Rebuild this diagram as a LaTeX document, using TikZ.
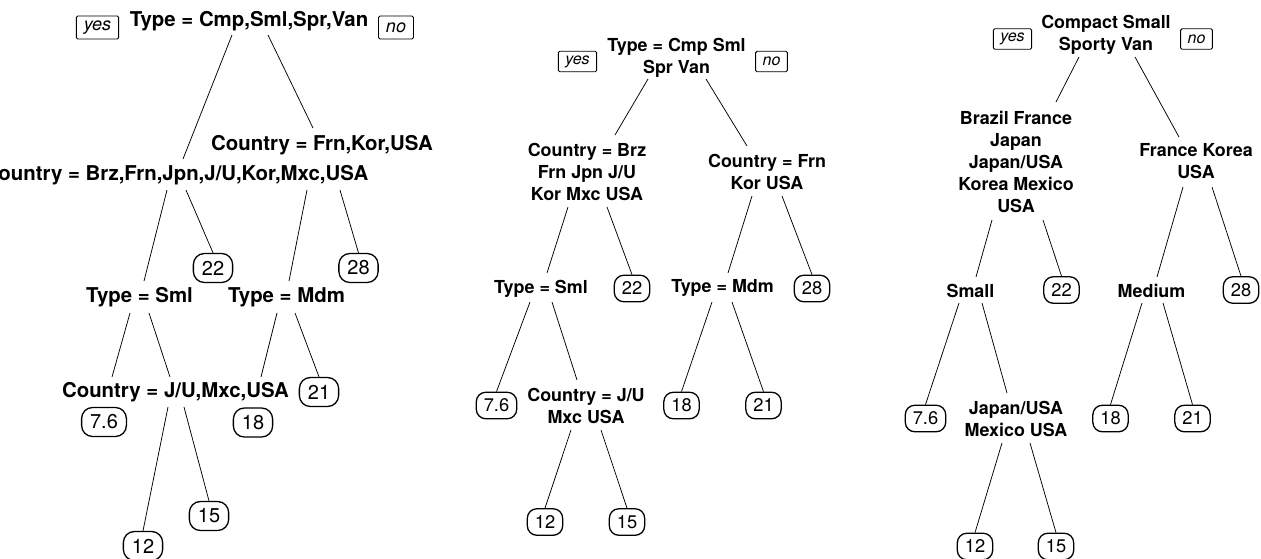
\documentclass[tikz,border=0pt]{standalone}
\usepackage{fontspec}
\setmainfont{TeX Gyre Heros}
\usetikzlibrary{calc}
\tikzset{
% Node styles for the split labels, the leaf boxes and the yes/no tags
split node/.style={font=\bfseries\fontsize{#1}{22}\selectfont,align=center,inner sep=0},
split node/.default=17.9,
leaf node/.style={draw,line width=1.3pt,rounded corners=9.5,inner xsep=7.5,inner ysep=0,minimum height=26.5,font=\fontsize{18.3}{20}\selectfont},
big leaf node/.style={leaf node,rounded corners=11,inner xsep=8.5,minimum height=29,font=\fontsize{20}{24}\selectfont},
tag node/.style={draw,line width=0.9pt,rounded corners=1.5,inner xsep=7,inner ysep=0,minimum height=20.5,font=\itshape\fontsize{16}{18}\selectfont},
big tag node/.style={tag node,inner xsep=7.5,minimum height=23,font=\itshape\fontsize{18}{20}\selectfont}
}

\begin{document}
\begin{tikzpicture}[x=1pt,y=-1pt,line width=0.75pt]
        \useasboundingbox (0,0) rectangle (1261,558);
        % First tree: splits written with commas
        \node(a0)[split node=20.4] at (249,21.5) {Type = Cmp,Sml,Spr,Van};
        \node(ay)[big tag node] at (97.5,27.5) {yes};
        \node(an)[big tag node] at (396,27.5) {no};
        \node(a1)[split node=20.4] at (176,175) {Country = Brz,Frn,Jpn,J/U,Kor,Mxc,USA};
        \node(a2)[split node=20.4] at (322,145.5) {Country = Frn,Kor,USA};
        \node(a11)[split node=20.4] at (139.5,297.5) {Type = Sml};
        \node(a12)[big leaf node] at (213,268) {22};
        \node(a21)[split node=20.4] at (286.5,297.5) {Type = Mdm};
        \node(a22)[big leaf node] at (358.5,268) {28};
        \node(a111)[big leaf node] at (104,422) {7.6};
        \node(a112)[split node=20.4] at (175.5,392.5) {Country = J/U,Mxc,USA};
        \node(a211)[big leaf node] at (253,422.5) {18};
        \node(a212)[big leaf node] at (319,392) {21};
        \node(a1121)[big leaf node] at (143,546) {12};
        \node(a1122)[big leaf node] at (209,516) {15};
        \draw ($(a0)+(-17,13.5)$) -- ($(a1)+(7,-16)$);
        \draw ($(a0)+(19,13.5)$) -- ($(a2)+(-9,-17.5)$);
        \draw ($(a1)+(-9,15)$) -- ($(a11)+(4.5,-16.5)$);
        \draw ($(a1)+(10,15)$) -- (a12.north);
        \draw ($(a2)+(-15,44.5)$) -- ($(a21)+(2.5,-16.5)$);
        \draw ($(a2)+(18,44.5)$) -- (a22.north);
        \draw ($(a11)+(-9.5,15.5)$) -- ($(a111)+(8,-45)$);
        \draw ($(a11)+(9.5,15.5)$) -- ($(a112)+(-5.5,-15.5)$);
        \draw ($(a21)+(-9.5,15.5)$) -- ($(a211)+(8,-45.5)$);
        \draw ($(a21)+(8.5,15.5)$) -- (a212.north);
        \draw ($(a112)+(-7.5,14.5)$) -- (a1121.north);
        \draw ($(a112)+(8.5,14.5)$) -- (a1122.north);
        % Second tree: splits broken over lines
        \node(b0)[split node] at (676.5,57.7) {Type = Cmp Sml\\Spr Van};
        \node(by)[tag node] at (577.5,61.5) {yes};
        \node(bn)[tag node] at (771.5,61.5) {no};
        \node(b1)[split node] at (587,172.3) {Country = Brz\\Frn Jpn J/U\\Kor Mxc USA};
        \node(b2)[split node] at (767,172) {Country = Frn\\Kor USA};
        \node(b11)[split node] at (541,288.4) {Type = Sml};
        \node(b12)[leaf node] at (632,288.5) {22};
        \node(b21)[split node] at (722.5,288.4) {Type = Mdm};
        \node(b22)[leaf node] at (812,288.5) {28};
        \node(b111)[leaf node] at (496.5,405.5) {7.6};
        \node(b112)[split node] at (586,405.5) {Country = J/U\\Mxc USA};
        \node(b211)[leaf node] at (681.5,405.5) {18};
        \node(b212)[leaf node] at (763.5,405.5) {21};
        \node(b1121)[leaf node] at (545,522) {12};
        \node(b1122)[leaf node] at (627,522) {15};
        \draw ($(b0)+(-28.5,21.3)$) -- ($(b1)+(28,-37.3)$);
        \draw ($(b0)+(29.5,21.3)$) -- ($(b2)+(-20,-26)$);
        \draw ($(b1)+(-19,34.7)$) -- ($(b11)+(6,-15.4)$);
        \draw ($(b1)+(20,34.7)$) -- (b12.north);
        \draw ($(b2)+(-15,24)$) -- ($(b21)+(5.5,-15.4)$);
        \draw ($(b2)+(15,24)$) -- (b22.north);
        \draw ($(b11)+(-11,13.6)$) -- (b111.north);
        \draw ($(b11)+(11,13.6)$) -- ($(b112)+(-9,-25.5)$);
        \draw ($(b21)+(-10.5,13.6)$) -- (b211.north);
        \draw ($(b21)+(9.5,13.6)$) -- (b212.north);
        \draw ($(b112)+(-15,24.5)$) -- (b1121.north);
        \draw ($(b112)+(15,24.5)$) -- (b1122.north);
        % Third tree: full factor levels only
        \node(c0)[split node] at (1106,34.8) {Compact Small\\Sporty Van};
        \node(cy)[tag node] at (1012.5,39) {yes};
        \node(cn)[tag node] at (1196.5,39) {no};
        \node(c1)[split node] at (1016,161.5) {Brazil France\\Japan\\Japan/USA\\Korea Mexico\\USA};
        \node(c2)[split node] at (1196,161.2) {France Korea\\USA};
        \node(c11)[split node] at (970.5,290.5) {Small};
        \node(c12)[leaf node] at (1061.5,290) {22};
        \node(c21)[split node] at (1151.5,290.5) {Medium};
        \node(c22)[leaf node] at (1241,290) {28};
        \node(c111)[leaf node] at (925.5,418.5) {7.6};
        \node(c112)[split node] at (1016,418.5) {Japan/USA\\Mexico USA};
        \node(c211)[leaf node] at (1110.5,418.5) {18};
        \node(c212)[leaf node] at (1192.5,418.5) {21};
        \node(c1121)[leaf node] at (975,546.5) {12};
        \node(c1122)[leaf node] at (1056,546.5) {15};
        \draw ($(c0)+(-27,22.2)$) -- ($(c1)+(40,-59.5)$);
        \draw ($(c0)+(29,22.2)$) -- ($(c2)+(-17,-24.2)$);
        \draw ($(c1)+(-24,58.5)$) -- ($(c11)+(5.5,-13.5)$);
        \draw ($(c1)+(27,58.5)$) -- (c12.north);
        \draw ($(c2)+(-13,25.8)$) -- ($(c21)+(5.5,-13.5)$);
        \draw ($(c2)+(16,25.8)$) -- (c22.north);
        \draw ($(c11)+(-11.5,12.5)$) -- (c111.north);
        \draw ($(c11)+(11.5,12.5)$) -- ($(c112)+(-9,-25.5)$);
        \draw ($(c21)+(-9.5,12.5)$) -- (c211.north);
        \draw ($(c21)+(11.5,12.5)$) -- (c212.north);
        \draw ($(c112)+(-14,24.5)$) -- (c1121.north);
        \draw ($(c112)+(14,24.5)$) -- (c1122.north);
      \end{tikzpicture}
\end{document}
